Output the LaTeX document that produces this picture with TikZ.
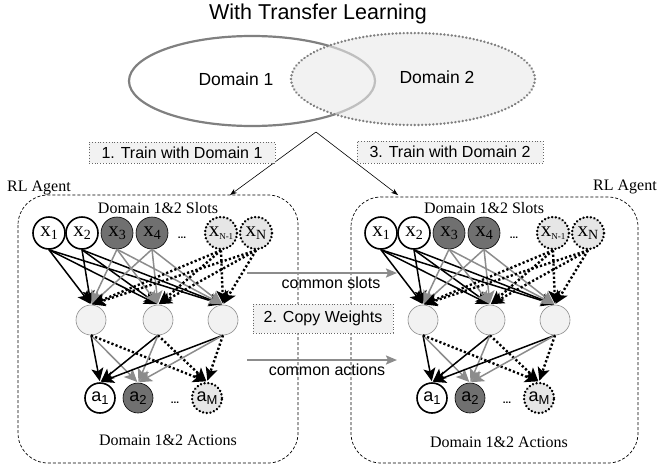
\documentclass[tikz,border=0pt]{standalone}
\usepackage{fontspec}
\setmainfont{Liberation Serif}
\newfontfamily\hv{Liberation Sans}
\usetikzlibrary{arrows.meta}
\definecolor{dkg}{RGB}{112,112,112}
\definecolor{edg}{RGB}{140,140,140}
\definecolor{ltg}{RGB}{230,230,230}
\definecolor{hidg}{RGB}{242,242,242}
\definecolor{hidb}{RGB}{140,140,140}
\definecolor{ellg}{RGB}{128,128,128}
\definecolor{ell2}{RGB}{233,233,233}
\newcommand\xlab[2][14]{{\fontsize{21}{21}\selectfont x}\raisebox{-3.5pt}{\fontsize{#1}{#1}\selectfont #2}}
\newcommand\alab[1]{{\hv\fontsize{18}{18}\selectfont a\raisebox{-3pt}{\fontsize{13}{13}\selectfont #1}}}
\tikzset{
  slot/.style={circle, minimum size=32pt, inner sep=0pt},
  wnode/.style={slot, draw=black, line width=1.6pt, fill=white},
  gnode/.style={slot, draw=black, line width=0.6pt, fill=dkg},
  dnode/.style={slot, draw=black, line width=2.6pt, line cap=round, dash pattern=on 0.1pt off 3.6pt, fill=ltg},
  hnode/.style={circle, minimum size=30pt, inner sep=0pt, draw=hidb, line width=0.6pt, fill=hidg},
  anode/.style={minimum size=30pt},
  bigtip/.style={-{Stealth[length=13pt,width=12pt,inset=3pt]}},
  bedge/.style={bigtip, black, line width=1.5pt, shorten >=1pt},
  gedge/.style={bigtip, edg, line width=1.5pt, shorten >=1pt},
  dedge/.style={bigtip, black, line width=2.4pt, dash pattern=on 2.2pt off 2.2pt, shorten >=1pt},
  agentbox/.style={draw=black, line width=0.7pt, dash pattern=on 3pt off 2pt, rounded corners=30pt},
  lbl/.style={draw=black!60, line width=0.6pt, dash pattern=on 0.8pt off 2pt, fill=hidg, inner sep=0pt, font=\hv\fontsize{16}{18}\selectfont},
  sans/.style={font=\hv\fontsize{16}{18}\selectfont, inner sep=0pt},
  serif/.style={font=\fontsize{16}{18}\selectfont, inner sep=0pt},
  dots/.style={font=\hv\bfseries\fontsize{10}{10}\selectfont, inner sep=0pt},
  midarrow/.style={-{Stealth[length=11pt,width=9pt,inset=2pt]}, edg, line width=2pt},
  thinarrow/.style={-{Stealth[length=7pt,width=5pt]}, black, line width=0.6pt}
}
\begin{document}
\begin{tikzpicture}[x=1pt,y=-1pt]
\useasboundingbox (0,0) rectangle (666,474);
% title
\node[font=\hv\fontsize{21.5}{24}\selectfont, inner sep=0pt] (title) at (318,14) {With Transfer Learning};
% ellipses
\draw[ellg, line width=2.2pt] (252,81) ellipse [x radius=123, y radius=45];
\draw[ellg, line width=2.6pt, line cap=round, dash pattern=on 0.1pt off 3.6pt, fill=ell2, fill opacity=0.6] (413,79) ellipse [x radius=122, y radius=46];
\node[font=\hv\fontsize{17.5}{20}\selectfont, inner sep=0pt] (d1) at (236,79) {Domain 1};
\node[font=\hv\fontsize{17.5}{20}\selectfont, inner sep=0pt] (d2) at (437,77) {Domain 2};
% train arrows
\coordinate (apex) at (316,132);
\coordinate (ltgt) at (230,195);
\coordinate (rtgt) at (398,195);
\draw[thinarrow] (apex) -- (ltgt);
\draw[thinarrow] (apex) -- (rtgt);
\node[lbl, minimum width=186pt, minimum height=21pt] (t1) at (182,152.5) {1. Train with Domain 1};
\node[lbl, minimum width=186pt, minimum height=22pt] (t3) at (450,152) {3. Train with Domain 2};
% agent boxes
\draw[agentbox] (18,195) rectangle (298,463);
\draw[agentbox] (351,197) rectangle (638,463);
\node[serif] (rl1) at (39,188) {RL Agent};
\node[serif] (rl2) at (625,187) {RL Agent};
\node[serif] (s1) at (158,208) {Domain 1\&2 Slots};
\node[serif] (s2) at (484,208) {Domain 1\&2 Slots};
\node[serif] (ac1) at (168,440) {Domain 1\&2 Actions};
\node[serif] (ac2) at (499,442) {Domain 1\&2 Actions};
% networks
\foreach \sd/\dx in {L/0,R/332}{
\begin{scope}[xshift=\dx pt, name prefix=\sd-]
  \node[wnode] (x1) at (49,233) {\xlab{1}};
  \node[wnode] (x2) at (82,233) {\xlab{2}};
  \node[gnode] (x3) at (117,233) {\xlab{3}};
  \node[gnode] (x4) at (152,233) {\xlab{4}};
  \node[dots] (xd) at (182,238) {...};
  \node[dnode] (xn1) at (221,233) {\xlab[9]{N-1}};
  \node[dnode] (xn) at (256,233) {\xlab{N}};
  \node[hnode] (h1) at (91,320) {};
  \node[hnode] (h2) at (158,320) {};
  \node[hnode] (h3) at (223,320) {};
  \node[wnode, anode] (a1) at (100,398) {\alab{1}};
  \node[gnode, anode] (a2) at (138,398) {\alab{2}};
  \node[dots] (ad) at (175,403) {...};
  \node[dnode, anode] (am) at (207,398) {\alab{M}};
  \foreach \t in {h1,h2,h3}{
    \draw[bedge] (x1.south) -- (\t.north);
    \draw[bedge] (x2.south) -- (\t.north);
  }
  \foreach \t in {h1,h2,h3}{
    \draw[gedge] (x3.south) -- (\t.north);
    \draw[gedge] (x4.south) -- (\t.north);
  }
  \foreach \t in {h1,h2,h3}{
    \draw[dedge] (xn1.south) -- (\t.north);
    \draw[dedge] (xn.south) -- (\t.north);
  }
  \foreach \s in {h1,h2,h3}{
    \draw[bedge] (\s.south) -- (a1.north);
    \draw[gedge] (\s.south) -- (a2.north);
    \draw[dedge] (\s.south) -- (am.north);
  }
\end{scope}
}
% middle
\coordinate (cs0) at (247,273);
\coordinate (cs1) at (397,273);
\coordinate (ca0) at (247,360);
\coordinate (ca1) at (397,360);
\draw[midarrow] (cs0) -- (cs1);
\draw[midarrow] (ca0) -- (ca1);
\node[sans] (csl) at (331,283) {common slots};
\node[sans] (cal) at (327,370) {common actions};
\node[lbl, minimum width=140pt, minimum height=29pt] (cw) at (323,318.5) {2. Copy Weights};
\end{tikzpicture}
\end{document}
